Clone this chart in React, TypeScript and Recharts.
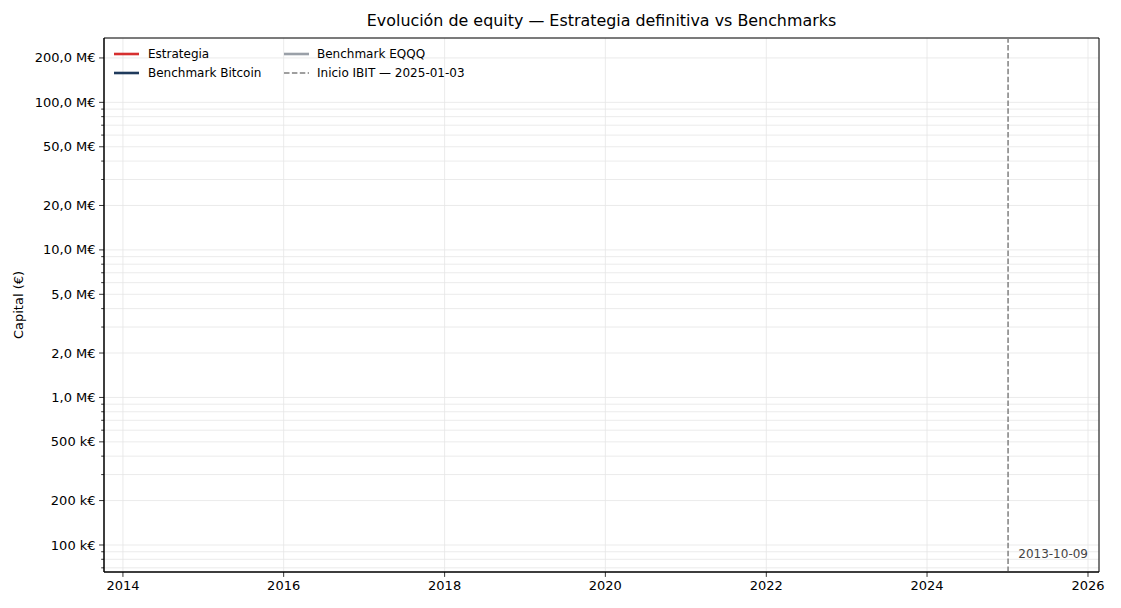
import React from 'react';
import {CartesianGrid, ComposedChart, Line, ReferenceArea, ReferenceLine, XAxis, YAxis} from 'recharts';

// Series: no line reaches the visible area.
const DATES = ['2013-10-09'];
const ESTRATEGIA: (number | null)[] = [null];
const BITCOIN: (number | null)[] = [null];
const EQQQ: (number | null)[] = [null];

const IBIT_START = '2025-01-03';
const START_LABEL = '2013-10-09';

const X_TICKS = ['2014-01-01', '2016-01-01', '2018-01-01', '2020-01-01', '2022-01-01', '2024-01-01', '2026-01-01'];
const Y_MAJOR = [1e5, 2e5, 5e5, 1e6, 2e6, 5e6, 1e7, 2e7, 5e7, 1e8, 2e8];
const Y_MINOR = [7e4, 8e4, 9e4, 3e5, 4e5, 6e5, 7e5, 8e5, 9e5, 3e6, 4e6, 6e6, 7e6, 8e6, 9e6, 3e7, 4e7, 6e7, 7e7, 8e7, 9e7];

const X_DOMAIN = [Date.parse('2013-10-07'), Date.parse('2026-02-20')];
const Y_DOMAIN = [65600, 2.73e8];

const LEGEND = [
  {name: 'Estrategia', color: '#d62f2f', dash: false},
  {name: 'Benchmark Bitcoin', color: '#1f3a5c', dash: false},
  {name: 'Benchmark EQQQ', color: '#9aa0a8', dash: false},
  {name: `Inicio IBIT — ${IBIT_START}`, color: '#808080', dash: true},
];

const W = 1121;
const H = 608;
const FONT = '"DejaVu Sans", sans-serif';

const fmtCapital = (v: number) => {
  if (v >= 1e6) return `${(v / 1e6).toFixed(1).replace('.', ',')} M€`;
  return `${(v / 1e3).toFixed(0)} k€`;
};

const YTick = (props: any) => {
  const {x, y, payload} = props;
  const major = Y_MAJOR.includes(payload.value);
  const len = major ? 4.9 : 2.8;
  return (
    <g>
      <line x1={x} x2={x - len} y1={y} y2={y} stroke="#000" strokeWidth={0.8} />
      {major && (
        <text x={x - len - 3.5} y={y} dy="0.35em" textAnchor="end" fontSize={13} fill="#000" fontFamily={FONT}>
          {fmtCapital(payload.value)}
        </text>
      )}
    </g>
  );
};

const XTick = (props: any) => {
  const {x, y, payload} = props;
  return (
    <g>
      <line x1={x} x2={x} y1={y} y2={y + 4.9} stroke="#000" strokeWidth={0.8} />
      <text x={x} y={y + 8.4} dy="0.71em" textAnchor="middle" fontSize={13} fill="#000" fontFamily={FONT}>
        {new Date(payload.value).getUTCFullYear()}
      </text>
    </g>
  );
};

export default function App() {
  const data = DATES.map((d, i) => ({
    t: Date.parse(d),
    estrategia: ESTRATEGIA[i],
    bitcoin: BITCOIN[i],
    eqqq: EQQQ[i],
  }));

  return (
    <div style={{position: 'absolute', left: 0, top: 0, width: W, height: H, background: '#fff', fontFamily: FONT}}>
      <div
        style={{
          position: 'absolute',
          left: 104,
          width: 995,
          top: 12,
          lineHeight: '18px',
          fontSize: 15.9,
          textAlign: 'center',
          color: '#000',
        }}
      >
        Evolución de equity — Estrategia definitiva vs Benchmarks
      </div>
      <div
        style={{
          position: 'absolute',
          left: 19,
          top: 305,
          fontSize: 13,
          lineHeight: '14px',
          whiteSpace: 'nowrap',
          transform: 'translate(-50%, -50%) rotate(-90deg)',
          color: '#000',
        }}
      >
        Capital (€)
      </div>

      <ComposedChart width={W} height={H} data={data} margin={{top: 38, right: 22, left: 0, bottom: 0}}>
        <CartesianGrid stroke="#e6e6e6" strokeWidth={0.8} />
        <XAxis
          dataKey="t"
          type="number"
          scale="time"
          domain={X_DOMAIN}
          allowDataOverflow
          ticks={X_TICKS.map((d) => Date.parse(d))}
          interval={0}
          height={36}
          tickSize={0}
          tickMargin={0}
          tickLine={false}
          tick={<XTick />}
          axisLine={{stroke: '#000', strokeWidth: 1}}
        />
        <YAxis
          type="number"
          scale="log"
          domain={Y_DOMAIN}
          allowDataOverflow
          ticks={[...Y_MAJOR, ...Y_MINOR].sort((a, b) => a - b)}
          interval={0}
          width={104}
          tickSize={0}
          tickMargin={0}
          tickLine={false}
          tick={<YTick />}
          axisLine={{stroke: '#000', strokeWidth: 1}}
        />
        <ReferenceArea
          x1={X_DOMAIN[0]}
          x2={X_DOMAIN[1]}
          y1={Y_DOMAIN[0]}
          y2={Y_DOMAIN[1]}
          fill="none"
          fillOpacity={0}
          stroke="#000"
          strokeWidth={1}
        />
        <ReferenceLine x={Date.parse(IBIT_START)} stroke="#808080" strokeWidth={1.5} strokeDasharray="5.5 2.4" />
        <Line dataKey="estrategia" stroke={LEGEND[0].color} strokeWidth={2} dot={false} isAnimationActive={false} />
        <Line dataKey="bitcoin" stroke={LEGEND[1].color} strokeWidth={2} dot={false} isAnimationActive={false} />
        <Line dataKey="eqqq" stroke={LEGEND[2].color} strokeWidth={2} dot={false} isAnimationActive={false} />
      </ComposedChart>

      {LEGEND.map((item, i) => {
        const col = Math.floor(i / 2);
        const row = i % 2;
        const left = col === 0 ? 114 : 284;
        const top = 54 + row * 19;
        return (
          <div key={item.name} style={{position: 'absolute', left, top: top - 8, height: 16, display: 'flex', alignItems: 'center'}}>
            <svg width={25} height={4} style={{marginRight: col === 0 ? 9 : 8}}>
              <line
                x1={0}
                x2={25}
                y1={2}
                y2={2}
                stroke={item.color}
                strokeWidth={item.dash ? 1.5 : 2.6}
                strokeDasharray={item.dash ? '5.5 2.4' : undefined}
              />
            </svg>
            <span style={{fontSize: 12, color: '#000', whiteSpace: 'nowrap'}}>{item.name}</span>
          </div>
        );
      })}

      <div
        style={{
          position: 'absolute',
          right: W - 1088,
          top: 554 - 8,
          lineHeight: '16px',
          fontSize: 12,
          color: '#444',
        }}
      >
        {START_LABEL}
      </div>
    </div>
  );
}
